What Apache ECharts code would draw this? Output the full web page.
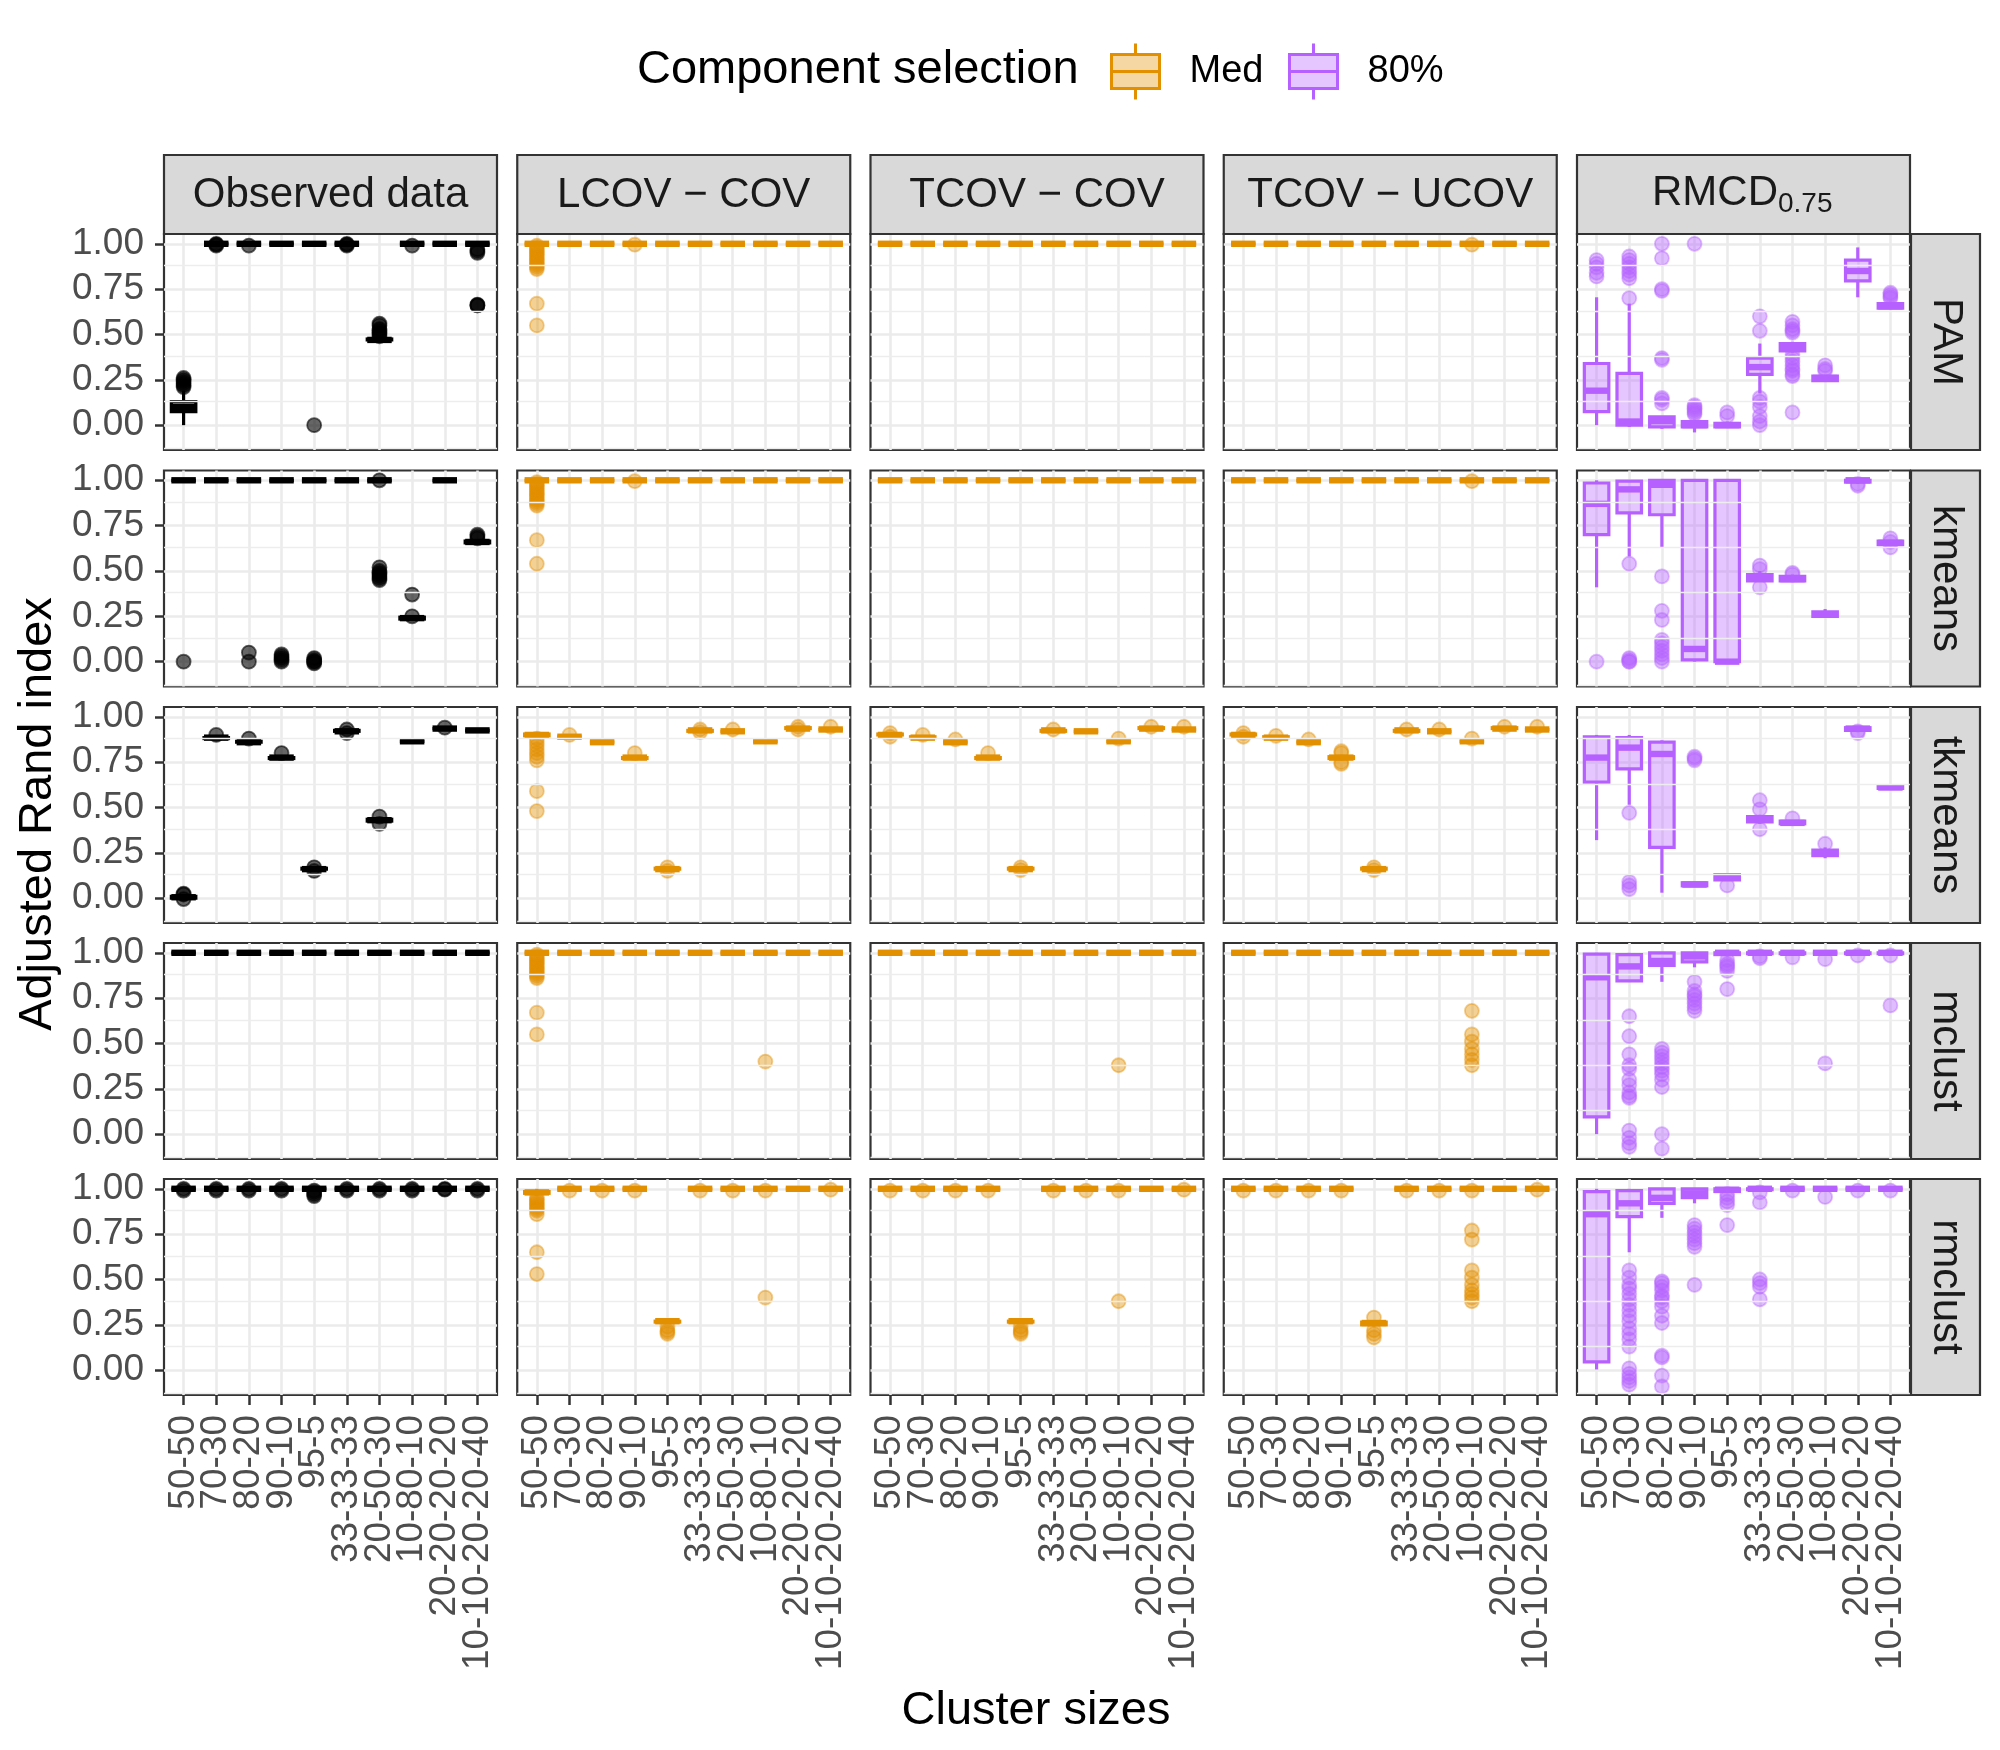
<!DOCTYPE html>
<html><head><meta charset="utf-8">
<script src="https://cdn.jsdelivr.net/npm/echarts@6/dist/echarts.min.js"></script>
<style>html,body{margin:0;padding:0;background:#fff}#chart{width:2000px;height:1750px}</style>
</head><body><div id="chart"></div>
<script>
// ---------------- DATA ----------------
const CATEGORIES = ['50-50','70-30','80-20','90-10','95-5','33-33-33','20-50-30','10-80-10','20-20-20-20','10-10-20-20-40'];
const COLUMN_LABELS = ['Observed data','LCOV − COV','TCOV − COV','TCOV − UCOV','RMCD'];
const COLUMN_SUB = ['','','','','0.75'];
const ROW_LABELS = ['PAM','kmeans','tkmeans','mclust','rmclust'];
const COLUMN_SELECTION = ['Observed','Med','Med','Med','80%'];
const LEGEND_ITEMS = ['Med','80%'];
const Y_TICKS = [0, 0.25, 0.5, 0.75, 1];
const Y_MINOR = [-0.125, 0.125, 0.375, 0.625, 0.875];

// box stats per category: [lower whisker, q1, median, q3, upper whisker]
// ---- Observed data ----
const obsPAM_box = [[0.0,0.075,0.10,0.13,0.19],[1,1,1,1,1],[1,1,1,1,1],[1,1,1,1,1],[1,1,1,1,1],[1,1,1,1,1],[0.465,0.47,0.47,0.475,0.48],[1,1,1,1,1],[1,1,1,1,1],[1,1,1,1,1]];
const obsPAM_out = [[0.21,0.22,0.23,0.24,0.25,0.26],[1,0.995,0.99],[0.99],[],[0],[1,0.995,0.99],[0.49,0.5,0.51,0.52,0.53,0.55,0.56],[0.99],[],[0.95,0.96,0.97,0.66,0.66,0.665]];
const obsKM_box = [[1,1,1,1,1],[1,1,1,1,1],[1,1,1,1,1],[1,1,1,1,1],[1,1,1,1,1],[1,1,1,1,1],[1,1,1,1,1],[0.23,0.235,0.24,0.245,0.25],[1,1,1,1,1],[0.65,0.655,0.66,0.665,0.67]];
const obsKM_out = [[0],[],[0,0.05],[0,0.01,0.02,0.03,0.04],[-0.01,0,0,0.01,0.02],[],[1,0.45,0.46,0.47,0.48,0.49,0.5,0.52],[0.37,0.25],[],[0.68,0.69,0.7]];
const obsTK_box = [[0.0,0.0,0.005,0.01,0.015],[0.88,0.88,0.885,0.885,0.89],[0.855,0.86,0.86,0.865,0.865],[0.77,0.77,0.775,0.775,0.78],[0.155,0.16,0.16,0.165,0.17],[0.915,0.92,0.92,0.925,0.93],[0.42,0.425,0.43,0.435,0.44],[0.86,0.865,0.865,0.865,0.87],[0.93,0.935,0.935,0.935,0.94],[0.92,0.925,0.925,0.925,0.93]];
const obsTK_out = [[0.02,0.025,-0.005],[0.9],[0.88],[0.8],[0.17,0.15],[0.93,0.91],[0.41,0.45],[],[0.94],[]];
const obsMC_box = [[1,1,1,1,1],[1,1,1,1,1],[1,1,1,1,1],[1,1,1,1,1],[1,1,1,1,1],[1,1,1,1,1],[1,1,1,1,1],[1,1,1,1,1],[1,1,1,1,1],[1,1,1,1,1]];
const obsMC_out = [[],[],[],[],[],[],[],[],[],[]];
const obsRM_box = [[1,1,1,1,1],[1,1,1,1,1],[1,1,1,1,1],[1,1,1,1,1],[1,1,1,1,1],[1,1,1,1,1],[1,1,1,1,1],[1,1,1,1,1],[1,1,1,1,1],[1,1,1,1,1]];
const obsRM_out = [[1,0.99],[1,0.99],[1,0.99],[1,0.99],[0.99,0.98,0.97,0.96],[1,0.99],[1,0.99],[1,0.99],[1,0.995],[1,0.99]];

// ---- LCOV - COV ----
const lcovPAM_box = [[1,1,1,1,1],[1,1,1,1,1],[1,1,1,1,1],[1,1,1,1,1],[1,1,1,1,1],[1,1,1,1,1],[1,1,1,1,1],[1,1,1,1,1],[1,1,1,1,1],[1,1,1,1,1]];
const lcovPAM_out = [[0.99,0.98,0.97,0.96,0.95,0.94,0.93,0.92,0.91,0.9,0.89,0.88,0.87,0.86,0.67,0.55],[],[],[0.995],[],[],[],[],[],[]];
const lcovKM_box = [[1,1,1,1,1],[1,1,1,1,1],[1,1,1,1,1],[1,1,1,1,1],[1,1,1,1,1],[1,1,1,1,1],[1,1,1,1,1],[1,1,1,1,1],[1,1,1,1,1],[1,1,1,1,1]];
const lcovKM_out = [[0.99,0.98,0.97,0.96,0.95,0.94,0.93,0.92,0.91,0.9,0.89,0.88,0.87,0.86,0.67,0.54],[],[],[0.995],[],[],[],[],[],[]];
const lcovTK_box = [[0.89,0.895,0.9,0.905,0.91],[0.885,0.89,0.89,0.89,0.895],[0.855,0.86,0.86,0.86,0.865],[0.77,0.77,0.775,0.775,0.78],[0.155,0.16,0.16,0.165,0.17],[0.915,0.92,0.925,0.925,0.93],[0.915,0.92,0.92,0.92,0.925],[0.86,0.865,0.865,0.865,0.87],[0.93,0.935,0.935,0.94,0.94],[0.925,0.93,0.93,0.93,0.935]];
const lcovTK_out = [[0.88,0.86,0.84,0.82,0.8,0.78,0.76,0.59,0.48],[0.9],[],[0.8],[0.17,0.15],[0.93,0.915],[0.93],[],[0.945,0.93],[0.945]];
const lcovMC_box = [[1,1,1,1,1],[1,1,1,1,1],[1,1,1,1,1],[1,1,1,1,1],[1,1,1,1,1],[1,1,1,1,1],[1,1,1,1,1],[1,1,1,1,1],[1,1,1,1,1],[1,1,1,1,1]];
const lcovMC_out = [[0.99,0.98,0.97,0.96,0.95,0.94,0.93,0.92,0.91,0.9,0.89,0.88,0.87,0.86,0.67,0.55],[],[],[],[],[],[],[0.40],[],[]];
const lcovRM_box = [[0.96,0.975,0.98,0.985,1.0],[1,1,1,1,1],[1,1,1,1,1],[1,1,1,1,1],[0.26,0.265,0.27,0.27,0.275],[1,1,1,1,1],[1,1,1,1,1],[1,1,1,1,1],[1,1,1,1,1],[1,1,1,1,1]];
const lcovRM_out = [[0.95,0.94,0.93,0.92,0.91,0.9,0.89,0.88,0.86,0.65,0.53],[0.99],[0.99],[0.99],[0.24,0.22,0.21,0.2],[0.99],[0.99],[0.99,0.40],[],[0.995]];

// ---- TCOV - COV ----
const tcovPAM_box = [[1,1,1,1,1],[1,1,1,1,1],[1,1,1,1,1],[1,1,1,1,1],[1,1,1,1,1],[1,1,1,1,1],[1,1,1,1,1],[1,1,1,1,1],[1,1,1,1,1],[1,1,1,1,1]];
const tcovPAM_out = [[],[],[],[],[],[],[],[],[],[]];
const tcovKM_box = [[1,1,1,1,1],[1,1,1,1,1],[1,1,1,1,1],[1,1,1,1,1],[1,1,1,1,1],[1,1,1,1,1],[1,1,1,1,1],[1,1,1,1,1],[1,1,1,1,1],[1,1,1,1,1]];
const tcovKM_out = [[],[],[],[],[],[],[],[],[],[]];
const tcovTK_box = [[0.895,0.9,0.9,0.905,0.91],[0.88,0.885,0.885,0.89,0.89],[0.855,0.86,0.86,0.86,0.865],[0.77,0.77,0.775,0.775,0.78],[0.155,0.16,0.16,0.165,0.17],[0.915,0.92,0.925,0.925,0.93],[0.915,0.92,0.92,0.92,0.925],[0.86,0.865,0.865,0.865,0.87],[0.93,0.935,0.935,0.94,0.94],[0.925,0.93,0.93,0.93,0.935]];
const tcovTK_out = [[0.91,0.89],[0.9],[0.875],[0.8],[0.17,0.155],[0.93],[],[0.88],[0.945],[0.945]];
const tcovMC_box = [[1,1,1,1,1],[1,1,1,1,1],[1,1,1,1,1],[1,1,1,1,1],[1,1,1,1,1],[1,1,1,1,1],[1,1,1,1,1],[1,1,1,1,1],[1,1,1,1,1],[1,1,1,1,1]];
const tcovMC_out = [[],[],[],[],[],[],[],[0.38],[],[]];
const tcovRM_box = [[1,1,1,1,1],[1,1,1,1,1],[1,1,1,1,1],[1,1,1,1,1],[0.26,0.265,0.27,0.27,0.275],[1,1,1,1,1],[1,1,1,1,1],[1,1,1,1,1],[1,1,1,1,1],[1,1,1,1,1]];
const tcovRM_out = [[0.99],[0.99],[0.99],[0.99],[0.24,0.22,0.21,0.2],[0.99],[0.99],[0.99,0.38],[],[0.995]];

// ---- TCOV - UCOV ----
const tucovPAM_box = [[1,1,1,1,1],[1,1,1,1,1],[1,1,1,1,1],[1,1,1,1,1],[1,1,1,1,1],[1,1,1,1,1],[1,1,1,1,1],[1,1,1,1,1],[1,1,1,1,1],[1,1,1,1,1]];
const tucovPAM_out = [[],[],[],[],[],[],[],[0.995],[],[]];
const tucovKM_box = [[1,1,1,1,1],[1,1,1,1,1],[1,1,1,1,1],[1,1,1,1,1],[1,1,1,1,1],[1,1,1,1,1],[1,1,1,1,1],[1,1,1,1,1],[1,1,1,1,1],[1,1,1,1,1]];
const tucovKM_out = [[],[],[],[],[],[],[],[0.995],[],[]];
const tucovTK_box = [[0.895,0.9,0.9,0.905,0.91],[0.88,0.885,0.885,0.89,0.89],[0.855,0.86,0.86,0.86,0.865],[0.765,0.77,0.775,0.78,0.785],[0.155,0.16,0.16,0.165,0.17],[0.915,0.92,0.925,0.925,0.93],[0.915,0.92,0.92,0.92,0.925],[0.86,0.865,0.865,0.865,0.87],[0.93,0.935,0.935,0.94,0.94],[0.925,0.93,0.93,0.93,0.935]];
const tucovTK_out = [[0.91,0.89],[0.895],[0.875],[0.81,0.8,0.75,0.74],[0.17,0.155],[0.93],[0.93],[0.88],[0.945],[0.945]];
const tucovMC_box = [[1,1,1,1,1],[1,1,1,1,1],[1,1,1,1,1],[1,1,1,1,1],[1,1,1,1,1],[1,1,1,1,1],[1,1,1,1,1],[1,1,1,1,1],[1,1,1,1,1],[1,1,1,1,1]];
const tucovMC_out = [[],[],[],[],[],[],[],[0.68,0.55,0.51,0.47,0.44,0.41,0.38],[],[]];
const tucovRM_box = [[1,1,1,1,1],[1,1,1,1,1],[1,1,1,1,1],[1,1,1,1,1],[0.24,0.25,0.26,0.265,0.27],[1,1,1,1,1],[1,1,1,1,1],[1,1,1,1,1],[1,1,1,1,1],[1,1,1,1,1]];
const tucovRM_out = [[0.99],[0.99],[0.99],[0.99],[0.29,0.22,0.2,0.18],[0.99],[0.99],[0.99,0.77,0.72,0.55,0.51,0.47,0.44,0.42,0.4,0.38],[],[0.995]];

// ---- RMCD 0.75 ----
const rmcdPAM_box = [[0.0,0.075,0.19,0.34,0.705],[-0.01,0.0,0.02,0.285,0.67],[-0.02,-0.01,0.022,0.046,0.05],[-0.04,-0.01,0.0,0.02,0.03],[-0.01,-0.01,0.0,0.01,0.02],[0.175,0.28,0.32,0.37,0.45],[0.4,0.41,0.43,0.45,0.46],[0.24,0.245,0.26,0.27,0.275],[0.705,0.795,0.85,0.91,0.98],[0.64,0.645,0.655,0.67,0.68]];
const rmcdPAM_out = [[0.91,0.89,0.87,0.84,0.82],[0.93,0.91,0.89,0.87,0.85,0.83,0.81,0.7],[1.0,0.92,0.75,0.74,0.37,0.36,0.15,0.14,0.12],[1.0,0.11,0.1,0.09,0.08,0.07,0.06],[0.07,0.05],[0.6,0.52,0.15,0.13,0.1,0.05,0.02,0.0],[0.57,0.55,0.53,0.52,0.51,0.39,0.37,0.35,0.33,0.31,0.3,0.28,0.27,0.07],[0.33,0.31,0.3],[],[0.73,0.72,0.71,0.7]];
const rmcdKM_box = [[0.41,0.70,0.87,0.985,1.0],[0.58,0.82,0.95,0.995,1.0],[0.63,0.81,0.975,1.0,1.0],[0.0,0.01,0.07,1.0,1.0],[0.0,0.0,0.0,1.0,1.0],[0.44,0.445,0.46,0.48,0.5],[0.44,0.445,0.455,0.47,0.48],[0.245,0.25,0.26,0.275,0.29],[0.98,0.99,1.0,1.0,1.0],[0.64,0.645,0.655,0.665,0.67]];
const rmcdKM_out = [[0.0],[0.54,0.02,0.01,0.0,0.0],[0.47,0.28,0.23,0.12,0.1,0.08,0.06,0.04,0.02,0.0],[],[],[0.53,0.51,0.41],[0.49,0.48],[],[0.97,0.98],[0.68,0.66,0.63]];
const rmcdTK_box = [[0.32,0.64,0.775,0.89,0.9],[0.515,0.713,0.83,0.885,0.9],[0.03,0.28,0.795,0.86,0.87],[0.065,0.068,0.075,0.085,0.09],[0.095,0.1,0.115,0.13,0.135],[0.41,0.42,0.435,0.45,0.46],[0.405,0.41,0.415,0.425,0.43],[0.22,0.235,0.25,0.265,0.28],[0.915,0.925,0.935,0.94,0.95],[0.6,0.605,0.61,0.615,0.62]];
const rmcdTK_out = [[],[0.47,0.09,0.07,0.05],[],[0.78,0.77,0.76],[0.07],[0.54,0.49,0.38],[0.44],[0.3],[0.92,0.91],[]];
const rmcdMC_box = [[0.0,0.095,0.865,0.993,1.0],[0.84,0.845,0.925,0.99,1.0],[0.84,0.93,0.955,1.0,1.0],[0.92,0.95,0.98,1.0,1.0],[0.98,0.99,1.0,1.0,1.0],[0.99,0.995,1.0,1.0,1.0],[0.99,0.995,1.0,1.0,1.0],[1,1,1,1,1],[0.99,0.995,1.0,1.0,1.0],[0.99,0.995,1.0,1.0,1.0]];
const rmcdMC_out = [[],[0.65,0.54,0.44,0.38,0.36,0.3,0.27,0.23,0.21,0.2,0.02,-0.02,-0.05,-0.07],[0.47,0.45,0.43,0.41,0.39,0.37,0.35,0.33,0.3,0.26,0.0,-0.08],[0.84,0.79,0.77,0.76,0.74,0.72,0.7,0.68],[0.96,0.94,0.93,0.92,0.9,0.8],[0.98,0.97],[0.975],[0.965,0.39],[0.985],[0.985,0.71]];
const rmcdRM_box = [[0.004,0.046,0.86,0.984,1.0],[0.65,0.846,0.92,0.99,1.0],[0.84,0.92,0.95,1.0,1.0],[0.92,0.951,0.975,1.0,1.0],[0.98,0.985,0.995,1.0,1.0],[0.99,0.995,1.0,1.0,1.0],[0.995,1.0,1.0,1.0,1.0],[1,1,1,1,1],[0.995,1.0,1.0,1.0,1.0],[0.995,1.0,1.0,1.0,1.0]];
const rmcdRM_out = [[],[0.55,0.51,0.47,0.45,0.42,0.39,0.36,0.33,0.3,0.27,0.23,0.2,0.17,0.13,0.01,-0.02,-0.04,-0.06,-0.08],[0.49,0.48,0.46,0.44,0.41,0.4,0.38,0.35,0.3,0.26,0.08,0.07,-0.03,-0.09],[0.8,0.78,0.76,0.74,0.72,0.7,0.68,0.47],[0.97,0.95,0.93,0.91,0.8],[0.98,0.925,0.5,0.48,0.46,0.39],[0.99],[0.955],[0.99],[0.99]];

// ---------------- LAYOUT / STYLE ----------------
const PANEL_BOXES = [
  [obsPAM_box, obsKM_box, obsTK_box, obsMC_box, obsRM_box],
  [lcovPAM_box, lcovKM_box, lcovTK_box, lcovMC_box, lcovRM_box],
  [tcovPAM_box, tcovKM_box, tcovTK_box, tcovMC_box, tcovRM_box],
  [tucovPAM_box, tucovKM_box, tucovTK_box, tucovMC_box, tucovRM_box],
  [rmcdPAM_box, rmcdKM_box, rmcdTK_box, rmcdMC_box, rmcdRM_box]
];
const PANEL_OUTS = [
  [obsPAM_out, obsKM_out, obsTK_out, obsMC_out, obsRM_out],
  [lcovPAM_out, lcovKM_out, lcovTK_out, lcovMC_out, lcovRM_out],
  [tcovPAM_out, tcovKM_out, tcovTK_out, tcovMC_out, tcovRM_out],
  [tucovPAM_out, tucovKM_out, tucovTK_out, tucovMC_out, tucovRM_out],
  [rmcdPAM_out, rmcdKM_out, rmcdTK_out, rmcdMC_out, rmcdRM_out]
];

const FONT = '"Liberation Sans", Arial, Helvetica, sans-serif';
const PANEL_LEFT = [164, 517.25, 870.5, 1223.75, 1577];
const PANEL_TOP = [234, 470.5, 707, 943, 1179];
const PANEL_W = 333, PANEL_H = 216;
const STRIP_TOP = 155, STRIP_H = 79;
const RSTRIP_X = 1911, RSTRIP_W = 69;
const COLORS = { 'Observed': '#000000', 'Med': '#E29000', '80%': '#B661FF' };
const FILLS = { 'Observed': 'rgba(0,0,0,0.35)', 'Med': 'rgba(226,144,0,0.36)', '80%': 'rgba(182,97,255,0.36)' };
const PT_ALPHA = { 'Observed': 0.6, 'Med': 0.42, '80%': 0.42 };
const LW = 3.2;

function makeRender(color, fill) {
  return function (params, api) {
    const x = api.value(0);
    const c = v => api.coord([x, v]);
    const lo = c(api.value(1)), q1 = c(api.value(2)), md = c(api.value(3)), q3 = c(api.value(4)), hi = c(api.value(5));
    const w = api.size([0.75, 0])[0];
    const x0 = md[0] - w / 2;
    return { type: 'group', children: [
      { type: 'line', shape: { x1: hi[0], y1: hi[1], x2: q3[0], y2: q3[1] }, style: { stroke: color, lineWidth: LW } },
      { type: 'line', shape: { x1: q1[0], y1: q1[1], x2: lo[0], y2: lo[1] }, style: { stroke: color, lineWidth: LW } },
      { type: 'rect', shape: { x: x0, y: q3[1], width: w, height: q1[1] - q3[1] }, style: { fill: fill, stroke: color, lineWidth: LW } },
      { type: 'line', shape: { x1: x0, y1: md[1], x2: x0 + w, y2: md[1] }, style: { stroke: color, lineWidth: 2 * LW } }
    ]};
  };
}

const grids = [], xAxes = [], yAxes = [], series = [], graphics = [];
const xTickVals = CATEGORIES.map((_, i) => i);
const xLabelsEven = xTickVals.filter(i => i % 2 === 0);
const xLabelsOdd = xTickVals.filter(i => i % 2 === 1);

function xLabelStyle(show, vals) {
  return { show: show, customValues: vals, rotate: 90, margin: 20, fontSize: 37, color: '#4D4D4D', fontFamily: FONT,
    hideOverlap: false, formatter: v => CATEGORIES[Math.round(v)] };
}

for (let c = 0; c < 5; c++) {
  for (let r = 0; r < 5; r++) {
    const gi = grids.length;
    grids.push({ left: PANEL_LEFT[c], top: PANEL_TOP[r], width: PANEL_W, height: PANEL_H,
      show: true, backgroundColor: '#ffffff', borderColor: '#333333', borderWidth: 2.2, containLabel: false });
    const xi = xAxes.length;
    xAxes.push({ type: 'value', gridIndex: gi, min: -0.6, max: 9.6, position: 'bottom',
      axisLine: { show: false, onZero: false },
      axisTick: { show: r === 4, customValues: xTickVals, length: 10, lineStyle: { color: '#333333', width: 2.5 } },
      axisLabel: xLabelStyle(r === 4, xLabelsEven),
      splitLine: { show: true, lineStyle: { color: '#EBEBEB', width: 2.6 } } });
    if (r === 4) {
      // second label layer (odd categories) so neighbouring labels are never dropped
      xAxes.push({ type: 'value', gridIndex: gi, min: -0.6, max: 9.6, position: 'bottom', offset: 0,
        axisLine: { show: false, onZero: false },
        axisTick: { show: false, customValues: xLabelsOdd },
        axisLabel: xLabelStyle(true, xLabelsOdd),
        splitLine: { show: false } });
    }
    yAxes.push({ type: 'value', gridIndex: gi, min: -0.137, max: 1.054, position: 'left',
      axisLine: { show: false, onZero: false },
      axisTick: { show: c === 0, customValues: Y_TICKS, length: 9, lineStyle: { color: '#333333', width: 2.5 } },
      axisLabel: { show: c === 0, customValues: Y_TICKS, margin: 20, fontSize: 37, color: '#4D4D4D', fontFamily: FONT,
        formatter: v => Number(v).toFixed(2) },
      splitLine: { show: true, lineStyle: { color: '#EBEBEB', width: 2.6 } } });

    const sel = COLUMN_SELECTION[c];
    // minor grid lines
    series.push({ type: 'line', xAxisIndex: xi, yAxisIndex: gi, data: [], silent: true, z: 1,
      markLine: { silent: true, symbol: ['none', 'none'], label: { show: false }, animation: false,
        lineStyle: { color: '#EDEDED', width: 1.4, type: 'solid' }, emphasis: { disabled: true },
        data: Y_MINOR.map(v => ({ yAxis: v })) } });
    // outliers
    const outs = PANEL_OUTS[c][r];
    const pts = [];
    outs.forEach((arr, i) => arr.forEach(v => pts.push([i, v])));
    series.push({ type: 'scatter', name: sel, xAxisIndex: xi, yAxisIndex: gi, z: 2, silent: true,
      symbol: 'circle', symbolSize: 14, data: pts,
      itemStyle: { color: COLORS[sel], borderColor: COLORS[sel], borderWidth: 1.8, opacity: PT_ALPHA[sel] } });
    // boxes
    series.push({ type: 'custom', name: sel, xAxisIndex: xi, yAxisIndex: gi, z: 3, silent: true,
      renderItem: makeRender(COLORS[sel], FILLS[sel]),
      encode: { x: 0, y: [1, 2, 3, 4, 5] },
      itemStyle: { color: COLORS[sel] },
      data: PANEL_BOXES[c][r].map((b, i) => [i].concat(b)) });
  }
}

// strips (column)
for (let c = 0; c < 5; c++) {
  graphics.push({ type: 'rect', shape: { x: PANEL_LEFT[c], y: STRIP_TOP, width: PANEL_W, height: STRIP_H },
    style: { fill: '#D9D9D9', stroke: '#333333', lineWidth: 2.2 }, z: 10 });
  if (COLUMN_SUB[c]) {
    graphics.push({ type: 'text', x: PANEL_LEFT[c] + 75, y: STRIP_TOP + 38, z: 11,
      style: { text: COLUMN_LABELS[c], font: '42px ' + FONT, fill: '#1A1A1A', align: 'left', verticalAlign: 'middle', textAlign: 'left', textVerticalAlign: 'middle' } });
    graphics.push({ type: 'text', x: PANEL_LEFT[c] + 201, y: STRIP_TOP + 49, z: 11,
      style: { text: COLUMN_SUB[c], font: '28px ' + FONT, fill: '#1A1A1A', align: 'left', verticalAlign: 'middle', textAlign: 'left', textVerticalAlign: 'middle' } });
  } else {
    graphics.push({ type: 'text', x: PANEL_LEFT[c] + PANEL_W / 2, y: STRIP_TOP + 40, z: 11,
      style: { text: COLUMN_LABELS[c], font: '42px ' + FONT, fill: '#1A1A1A', align: 'center', verticalAlign: 'middle', textAlign: 'center', textVerticalAlign: 'middle' } });
  }
}
// strips (row)
for (let r = 0; r < 5; r++) {
  graphics.push({ type: 'rect', shape: { x: RSTRIP_X, y: PANEL_TOP[r], width: RSTRIP_W, height: PANEL_H },
    style: { fill: '#D9D9D9', stroke: '#333333', lineWidth: 2.2 }, z: 10 });
  graphics.push({ type: 'text', x: RSTRIP_X + RSTRIP_W / 2, y: PANEL_TOP[r] + PANEL_H / 2, rotation: -Math.PI / 2, z: 11,
    style: { text: ROW_LABELS[r], font: '42px ' + FONT, fill: '#1A1A1A', align: 'center', verticalAlign: 'middle', textAlign: 'center', textVerticalAlign: 'middle' } });
}
// axis titles & legend title
graphics.push({ type: 'text', x: 38, y: 814, rotation: Math.PI / 2, z: 11,
  style: { text: 'Adjusted Rand index', font: '47px ' + FONT, fill: '#000', align: 'center', verticalAlign: 'middle', textAlign: 'center', textVerticalAlign: 'middle' } });
graphics.push({ type: 'text', x: 1036, y: 1711, z: 11,
  style: { text: 'Cluster sizes', font: '47px ' + FONT, fill: '#000', align: 'center', verticalAlign: 'middle', textAlign: 'center', textVerticalAlign: 'middle' } });
graphics.push({ type: 'text', x: 637, y: 70, z: 11,
  style: { text: 'Component selection', font: '47px ' + FONT, fill: '#000', align: 'left', verticalAlign: 'middle', textAlign: 'left', textVerticalAlign: 'middle' } });

const ICON = 'path://M24,0L24,11M0,11L48,11L48,45L0,45ZM0,28L48,28M24,45L24,56';
const LEGEND_LEFT = [1110, 1288];
const legends = LEGEND_ITEMS.map((name, k) => ({
  data: [{ name: name, icon: ICON, itemStyle: { color: FILLS[name], borderColor: COLORS[name], borderWidth: 3, opacity: 1 } }],
  left: LEGEND_LEFT[k], top: 42, padding: 0, itemWidth: 48, itemHeight: 56, selectedMode: false,
  itemStyle: { opacity: 1 },
  textStyle: { fontSize: 38, color: '#000', fontFamily: FONT, padding: [0, 0, 0, 25] }
}));

const chart = echarts.init(document.getElementById('chart'), null, { renderer: 'canvas' });
chart.setOption({
  animation: false,
  backgroundColor: '#ffffff',
  textStyle: { fontFamily: FONT },
  legend: legends,
  grid: grids, xAxis: xAxes, yAxis: yAxes,
  series: series,
  graphic: { elements: graphics }
});
</script></body></html>
